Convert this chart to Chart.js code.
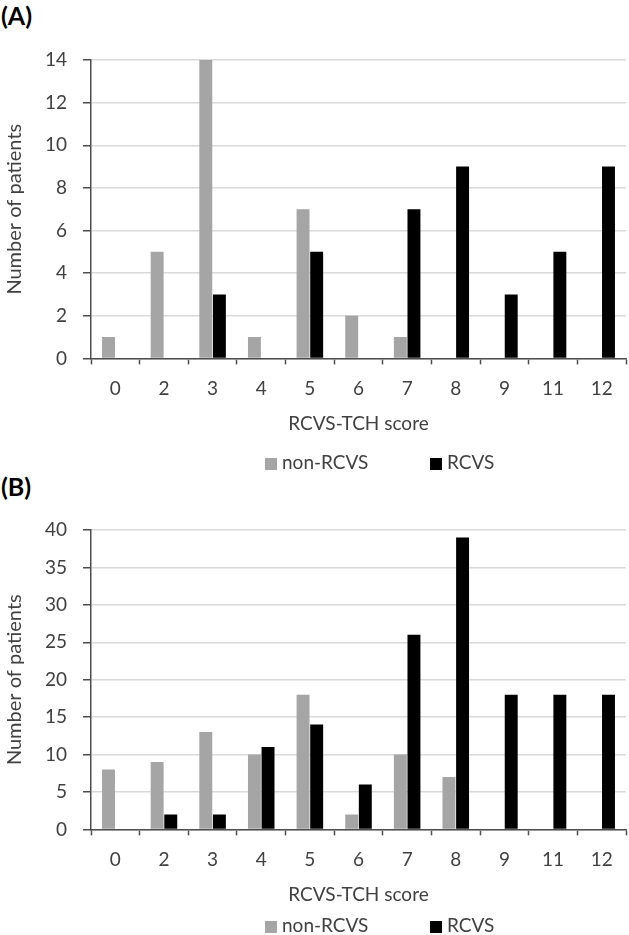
<!DOCTYPE html>
<html>
<head>
<meta charset="utf-8">
<script src="https://cdn.jsdelivr.net/npm/chart.js@4"></script>
<style>
  body { margin: 0; background: #fff; font-family: Lato, "Open Sans", sans-serif; color: #404040; }
  .panel { position: absolute; left: 0; width: 629px; }
  .tag { position: absolute; left: 1px; font-weight: bold; font-size: 25px; color: #000; line-height: 1; }
  .leg { position: absolute; font-size: 19px; line-height: 1; color: #404040; }
  .leg i { display: inline-block; width: 12px; height: 12px; margin-right: 5px; vertical-align: -1px; }
</style>
</head>
<body>
<div class="tag" style="top:3px">(A)</div>
<div class="panel" style="top:0;height:470px"><canvas id="chartA"></canvas></div>
<div class="leg" style="left:265px;top:452px"><i style="background:#a5a5a5"></i>non-RCVS</div>
<div class="leg" style="left:430px;top:452px"><i style="background:#000"></i>RCVS</div>

<div class="tag" style="top:474px">(B)</div>
<div class="panel" style="top:470px;height:465px"><canvas id="chartB"></canvas></div>
<div class="leg" style="left:265px;top:915px"><i style="background:#a5a5a5"></i>non-RCVS</div>
<div class="leg" style="left:430px;top:915px"><i style="background:#000"></i>RCVS</div>

<script>
// dữ liệu
const scoreLabels = ['0', '2', '3', '4', '5', '6', '7', '8', '9', '11', '12'];

// (A)
const nonRcvsA = [1, 5, 14, 1, 7, 2, 1, 0, 0, 0, 0];
const rcvsA    = [0, 0, 3, 0, 5, 0, 7, 9, 3, 5, 9];
const yMaxA = 14, yStepA = 2;

// (B)
const nonRcvsB = [8, 9, 13, 10, 18, 2, 10, 7, 0, 0, 0];
const rcvsB    = [0, 2, 2, 11, 14, 6, 26, 39, 18, 18, 18];
const yMaxB = 40, yStepB = 5;

const axisColor = '#4d4d4d';
const gridColor = '#d9d9d9';
const textColor = '#404040';
const fontFamily = 'Lato, "Open Sans", sans-serif';

function makeChart(id, nonRcvs, rcvs, yMax, yStep, padBottom) {
    const ctx = document.getElementById(id).getContext('2d');
    return new Chart(ctx, {
        type: 'bar',
        data: {
            labels: scoreLabels,
            datasets: [{
                label: 'non-RCVS',
                data: nonRcvs,
                backgroundColor: '#a5a5a5',
                borderWidth: 0
            }, {
                label: 'RCVS',
                data: rcvs,
                backgroundColor: '#000000',
                borderWidth: 0
            }]
        },
        options: {
            responsive: true,
            maintainAspectRatio: false,
            animation: false,
            categoryPercentage: 0.56,
            barPercentage: 0.95,
            layout: { padding: { top: 60, right: 3, left: 0, bottom: padBottom } },
            plugins: {
                legend: { display: false },
                tooltip: { enabled: false }
            },
            scales: {
                x: {
                    grid: { drawOnChartArea: false, drawTicks: true, tickLength: 6, tickColor: axisColor, tickWidth: 1.5, offset: true },
                    border: { color: axisColor, width: 1.5 },
                    ticks: { padding: 13, color: textColor, font: { family: fontFamily, size: 19 } },
                    title: { display: true, text: 'RCVS-TCH score', color: textColor, padding: { top: -1, bottom: 0 }, font: { family: fontFamily, size: 19 } }
                },
                y: {
                    min: 0,
                    max: yMax,
                    grid: { color: gridColor, lineWidth: 1.5, tickLength: 8, tickColor: axisColor, tickWidth: 1.5 },
                    border: { color: axisColor, width: 1.5 },
                    ticks: { stepSize: yStep, padding: 16, color: textColor, font: { family: fontFamily, size: 19 } },
                    title: { display: true, text: 'Number of patients', color: textColor, padding: { top: 3, bottom: 0 }, font: { family: fontFamily, size: 20 } },
                    afterFit: function (scale) { scale.width = 91; }
                }
            }
        }
    });
}

makeChart('chartA', nonRcvsA, rcvsA, yMaxA, yStepA, 35);
makeChart('chartB', nonRcvsB, rcvsB, yMaxB, yStepB, 29);
</script>
</body>
</html>
